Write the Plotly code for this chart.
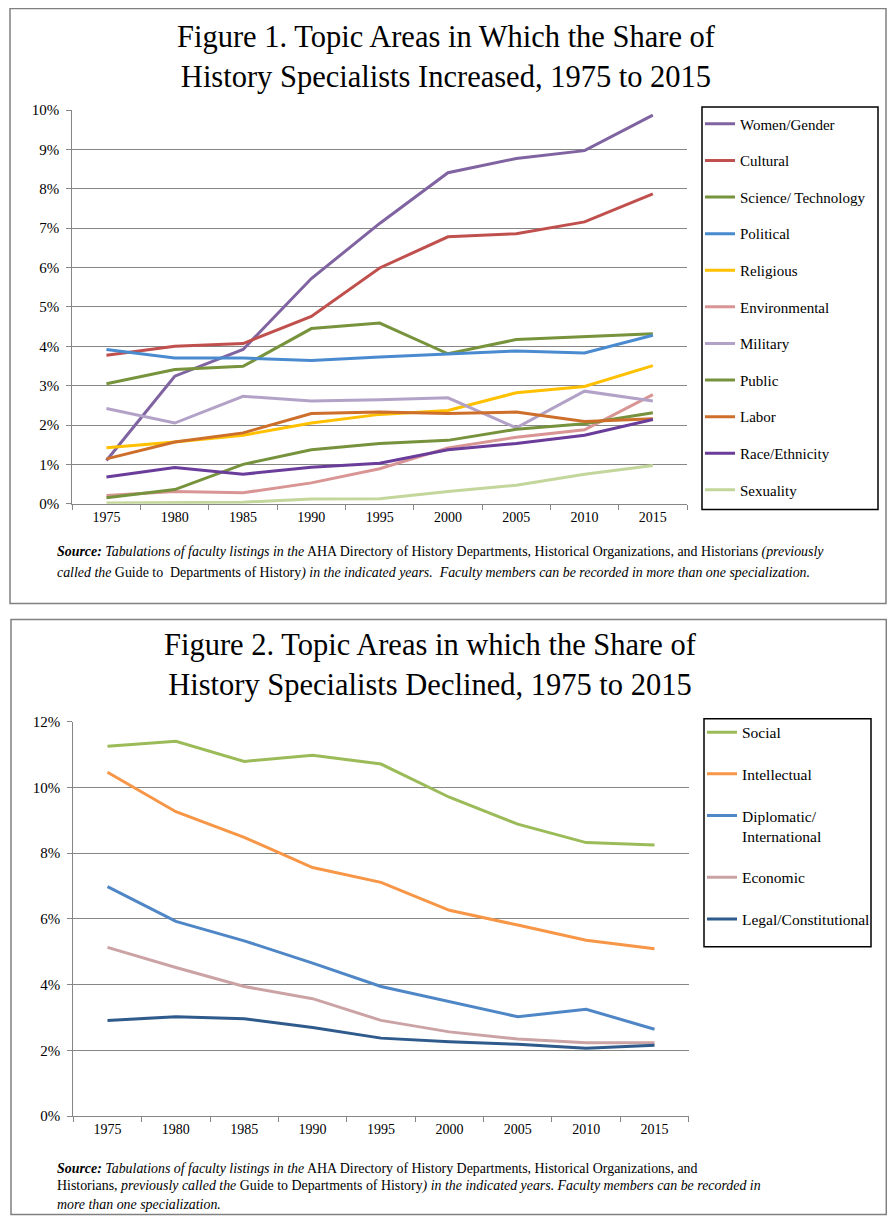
import plotly.graph_objects as go

# ---------------- data ----------------
years = ["1975", "1980", "1985", "1990", "1995", "2000", "2005", "2010", "2015"]

# Figure 1 (percent of history specialists)
women_gender = [1.10, 3.24, 3.92, 5.72, 7.12, 8.41, 8.77, 8.97, 9.87]
cultural = [3.77, 4.00, 4.07, 4.76, 5.99, 6.78, 6.86, 7.16, 7.87]
science_technology = [3.05, 3.41, 3.49, 4.45, 4.59, 3.81, 4.17, 4.24, 4.32]
political = [3.92, 3.70, 3.70, 3.64, 3.73, 3.80, 3.88, 3.83, 4.28]
religious = [1.42, 1.57, 1.74, 2.05, 2.27, 2.37, 2.82, 2.98, 3.51]
environmental = [0.21, 0.31, 0.28, 0.53, 0.89, 1.42, 1.69, 1.88, 2.77]
military = [2.42, 2.05, 2.73, 2.61, 2.64, 2.69, 1.93, 2.86, 2.61]
public = [0.15, 0.36, 1.00, 1.37, 1.53, 1.61, 1.89, 2.03, 2.31]
labor = [1.14, 1.57, 1.80, 2.29, 2.33, 2.29, 2.33, 2.09, 2.16]
race_ethnicity = [0.68, 0.92, 0.75, 0.93, 1.03, 1.37, 1.53, 1.74, 2.14]
sexuality = [0.02, 0.03, 0.04, 0.12, 0.13, 0.31, 0.47, 0.75, 0.97]

fig1_names = ["Women/Gender", "Cultural", "Science/ Technology", "Political", "Religious",
              "Environmental", "Military", "Public", "Labor", "Race/Ethnicity", "Sexuality"]
fig1_values = [women_gender, cultural, science_technology, political, religious,
               environmental, military, public, labor, race_ethnicity, sexuality]
fig1_colors = ["#8064A2", "#C0504D", "#77933C", "#4A8BD0", "#FFC000",
               "#D99594", "#B3A2C7", "#76923C", "#CD6F2A", "#6A3D9A", "#C3D69B"]

# Figure 2
social = [11.25, 11.40, 10.79, 10.98, 10.71, 9.70, 8.88, 8.32, 8.25]
intellectual = [10.46, 9.26, 8.48, 7.56, 7.11, 6.26, 5.81, 5.35, 5.09]
diplomatic_international = [6.98, 5.92, 5.33, 4.65, 3.94, 3.47, 3.02, 3.25, 2.64]
economic = [5.13, 4.52, 3.94, 3.57, 2.91, 2.56, 2.34, 2.23, 2.23]
legal_constitutional = [2.91, 3.02, 2.96, 2.69, 2.37, 2.26, 2.18, 2.06, 2.15]

fig2_names = ["Social", "Intellectual", "Diplomatic/<br>International", "Economic",
              "Legal/Constitutional"]
fig2_values = [social, intellectual, diplomatic_international, economic, legal_constitutional]
fig2_colors = ["#9BBB59", "#F79646", "#4F86C6", "#CCA3A5", "#2F5A8C"]

fig1_title = "Figure 1. Topic Areas in Which the Share of<br>History Specialists Increased, 1975 to 2015"
fig2_title = "Figure 2. Topic Areas in which the Share of<br>History Specialists Declined, 1975 to 2015"

# ---------------- figure ----------------
# measured mapping of the page: figure drawn 8px in from the left, 16px from the top,
# and the photo is squeezed a little vertically; layout is expressed in photo pixels
OFFX, OFFY, SY = 8, 16, 0.986
W, H = 895 - 2 * OFFX, 1222
SERIF = "Liberation Serif"
GRID = "#868686"


def px(x):
    return (x - OFFX) / W


def py(y):
    return 1 - ((y - OFFY) / SY) / H


fig = go.Figure()

for name, vals, col in zip(fig1_names, fig1_values, fig1_colors):
    fig.add_trace(go.Scatter(x=years, y=vals, name=name, mode="lines",
                             line=dict(color=col, width=3),
                             xaxis="x", yaxis="y", legend="legend", legendgroup=name))

for name, vals, col in zip(fig2_names, fig2_values, fig2_colors):
    fig.add_trace(go.Scatter(x=years, y=vals, name=name, mode="lines",
                             line=dict(color=col, width=3),
                             xaxis="x2", yaxis="y2", legend="legend2", legendgroup=name))

xcommon = dict(type="category", range=[-0.5, 8.5], tickson="boundaries", ticks="outside",
               ticklen=5, tickcolor=GRID, showline=True, linecolor=GRID, linewidth=1.3,
               showgrid=False, zeroline=False, tickfont=dict(family=SERIF, size=14, color="black"),
               fixedrange=True)
ycommon = dict(ticksuffix="%", showgrid=True, gridcolor=GRID, gridwidth=1.3, showline=True,
               linecolor=GRID, linewidth=1.3, ticks="outside", ticklen=5, tickcolor=GRID,
               zeroline=False, tickfont=dict(family=SERIF, size=15, color="black"),
               ticklabelstandoff=4, fixedrange=True)

fig.update_layout(
    width=W, height=H,
    margin=dict(l=0, r=0, t=0, b=0),
    paper_bgcolor="white", plot_bgcolor="white",
    xaxis=dict(xcommon, domain=[px(72.3), px(687)], anchor="y"),
    yaxis=dict(ycommon, domain=[py(503.3), py(110)], range=[0, 10], dtick=1, anchor="x"),
    xaxis2=dict(xcommon, domain=[px(73.3), px(688.7)], anchor="y2"),
    yaxis2=dict(ycommon, domain=[py(1115), py(721)], range=[0, 12], dtick=2, anchor="x2"),
    legend=dict(x=px(700), y=py(107.5), xanchor="left", yanchor="top",
                font=dict(family=SERIF, size=15, color="black"),
                bgcolor="rgba(0,0,0,0)", borderwidth=0, tracegroupgap=14.1, itemwidth=30),
    legend2=dict(x=px(702), y=py(715), xanchor="left", yanchor="top", valign="top",
                 font=dict(family=SERIF, size=15.5, color="black"),
                 bgcolor="rgba(0,0,0,0)", borderwidth=0, tracegroupgap=18.5, itemwidth=30),
    showlegend=True,
)

shapes = [
    # outer frames
    dict(type="rect", xref="paper", yref="paper", x0=px(10), x1=px(886), y0=py(603), y1=py(8.5),
         line=dict(color="#808080", width=1.5)),
    dict(type="rect", xref="paper", yref="paper", x0=px(11), x1=px(886.3), y0=py(1213.5), y1=py(619),
         line=dict(color="#808080", width=1.5)),
    # legend boxes
    dict(type="rect", xref="paper", yref="paper", x0=px(702), x1=px(878), y0=py(509), y1=py(107),
         line=dict(color="black", width=1.5)),
    dict(type="rect", xref="paper", yref="paper", x0=px(704), x1=px(871), y0=py(946), y1=py(718),
         line=dict(color="black", width=1.5)),
]
fig.update_layout(shapes=shapes)

TFONT = dict(family=SERIF, size=30.5, color="black")
NFONT = dict(family=SERIF, size=13.9, color="black")
annotations = [
    dict(text=fig1_title, x=px(446), y=py(57), xref="paper", yref="paper", xanchor="center",
         yanchor="middle", showarrow=False, font=TFONT, align="center"),
    dict(text=fig2_title, x=px(430), y=py(664.5), xref="paper", yref="paper", xanchor="center",
         yanchor="middle", showarrow=False, font=TFONT, align="center"),
]

notes = [
    ("<b><i>Source:</i></b><i> Tabulations of faculty listings in the</i> AHA Directory of History "
     "Departments, Historical Organizations, and Historians <i>(previously</i>", 552),
    ("<i>called the</i> Guide to  Departments of History<i>) in the indicated years.  Faculty members "
     "can be recorded in more than one specialization.</i>", 572),
    ("<b><i>Source:</i></b><i> Tabulations of faculty listings in the</i> AHA Directory of History "
     "Departments, Historical Organizations, and", 1167),
    ("Historians, <i>previously called the</i> Guide to Departments of History<i>) in the indicated "
     "years. Faculty members can be recorded in</i>", 1185),
    ("<i>more than one specialization.</i>", 1203),
]
for t, y in notes:
    annotations.append(dict(text=t, x=px(55), y=py(y), xref="paper", yref="paper",
                            xanchor="left", yanchor="middle", showarrow=False, font=NFONT,
                            align="left"))
fig.update_layout(annotations=annotations)

fig.write_html("out.html")
